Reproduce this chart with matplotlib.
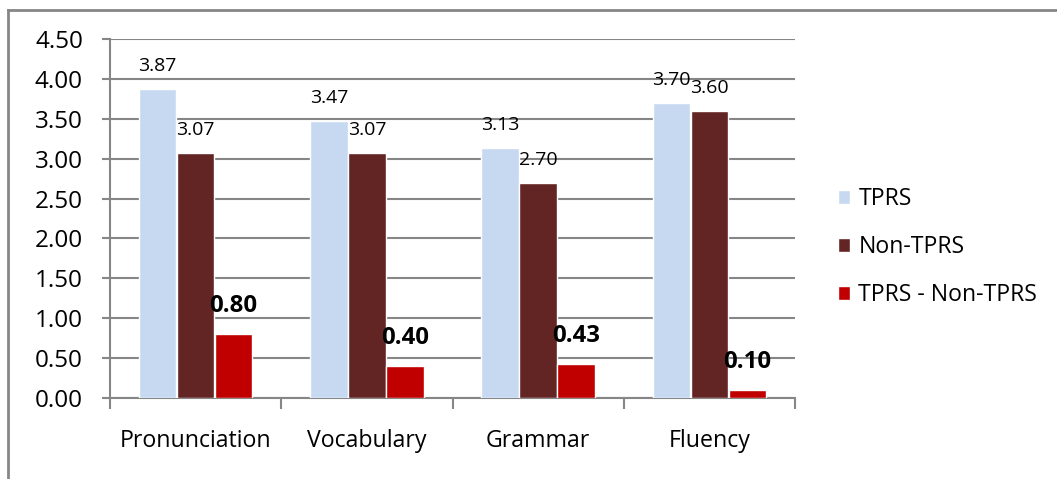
import matplotlib
matplotlib.use("Agg")
import matplotlib.pyplot as plt
import numpy as np
from matplotlib.lines import Line2D

categories = ["Pronunciation", "Vocabulary", "Grammar", "Fluency"]
series_names = ["TPRS", "Non-TPRS", "TPRS - Non-TPRS"]
tprs = [3.87, 3.47, 3.13, 3.70]
non_tprs = [3.07, 3.07, 2.70, 3.60]
diff = [0.80, 0.40, 0.43, 0.10]
yticks = [0.0, 0.5, 1.0, 1.5, 2.0, 2.5, 3.0, 3.5, 4.0, 4.5]

colors = ["#C6D9F1", "#632523", "#C00000"]
plt.rcParams['font.family'] = ['Open Sans', 'DejaVu Sans']

fig = plt.figure(figsize=(10.57, 4.79), dpi=100)
ax = fig.add_axes([110/1057, 1-398/479, (795-110)/1057, (398-39)/479])

x = np.arange(len(categories)) + 0.5
w = 0.218
offs = [-0.222, 0.0, 0.222]
data = [tprs, non_tprs, diff]
for i, (vals, name) in enumerate(zip(data, series_names)):
    bars = ax.bar(x + offs[i], vals, width=w, color=colors[i], edgecolor="white",
                  linewidth=1.0, label=name, zorder=3)
    for b, v in zip(bars, vals):
        if i < 2:
            ax.annotate(f"{v:.2f}", (b.get_x() + b.get_width()/2, v), xytext=(0, 16.5),
                        textcoords="offset points", ha="center", va="center",
                        fontsize=14, color="black", zorder=5)
        else:
            ax.annotate(f"{v:.2f}", (b.get_x() + b.get_width()/2, v), xytext=(0, 20),
                        textcoords="offset points", ha="center", va="center",
                        fontsize=17.3, fontweight="bold", color="black", zorder=5)

ax.set_xlim(0, 4)
ax.set_ylim(0, 4.5)
ax.set_yticks(yticks)
ax.set_yticklabels([f"{t:.2f}" for t in yticks], fontsize=17.5)
ax.yaxis.grid(True, color="#868686", linewidth=1.5, zorder=0)
ax.set_axisbelow(True)
ax.tick_params(axis="y", length=6, width=1.5, color="#868686", pad=13.5)

ax.set_xticks([0, 1, 2, 3, 4])
ax.set_xticklabels([])
ax.set_xticks(x, minor=True)
ax.set_xticklabels(categories, minor=True, fontsize=16.7)
ax.tick_params(axis="x", which="major", length=8, width=1.5, color="#868686", direction="out")
ax.tick_params(axis="x", which="minor", length=0, pad=22)

for s in ["top", "right"]:
    ax.spines[s].set_visible(False)
for s in ["left", "bottom"]:
    ax.spines[s].set_color("#868686")
    ax.spines[s].set_linewidth(1.5)

leg = fig.legend(loc="center left", bbox_to_anchor=(817/1057, 1-247/479), frameon=False,
                 fontsize=16.6, handlelength=0.55, handleheight=0.55, handletextpad=0.35,
                 labelspacing=1.05)

# outer chart frame (top and left edges visible)
fig.add_artist(Line2D([8/1057, 1.0], [1-10/479, 1-10/479], transform=fig.transFigure,
                      color="#868686", linewidth=2))
fig.add_artist(Line2D([8/1057, 8/1057], [0, 1-10/479], transform=fig.transFigure,
                      color="#868686", linewidth=2))

fig.savefig("out.png", dpi=100)
